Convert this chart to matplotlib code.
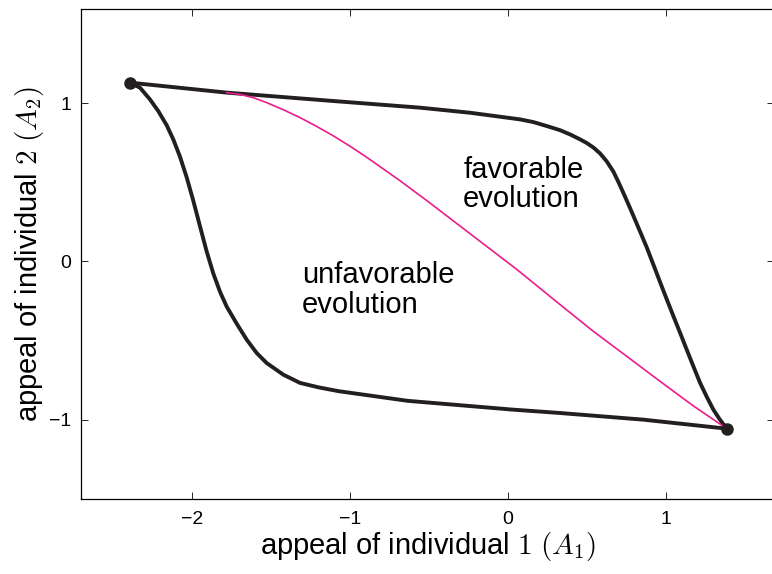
import matplotlib
matplotlib.use("Agg")
import matplotlib.pyplot as plt

plt.rcParams['font.family'] = ['Liberation Sans', 'DejaVu Sans']
plt.rcParams['mathtext.fontset'] = 'cm'

# upper (black) trajectory
upper_x = [-2.395, -1.782, -1.106, -0.557, -0.240, 0.077, 0.161, 0.246, 0.330, 0.394,
           0.457, 0.499, 0.541, 0.584, 0.626, 0.668, 0.700, 0.731, 0.763, 0.795,
           0.836, 0.880, 0.921, 0.964, 1.006, 1.048, 1.091, 1.133, 1.175, 1.217,
           1.260, 1.302, 1.344, 1.387]
upper_y = [1.129, 1.066, 1.013, 0.971, 0.939, 0.897, 0.880, 0.855, 0.829, 0.802,
           0.771, 0.748, 0.720, 0.682, 0.632, 0.568, 0.502, 0.434, 0.362, 0.288,
           0.192, 0.088, -0.018, -0.130, -0.238, -0.344, -0.451, -0.557, -0.662, -0.765,
           -0.855, -0.936, -1.000, -1.056]

# lower (black) trajectory
lower_x = [-2.395, -2.331, -2.268, -2.215, -2.162, -2.120, -2.078, -2.035, -1.994, -1.951,
           -1.909, -1.867, -1.824, -1.782, -1.719, -1.655, -1.592, -1.529, -1.423, -1.317,
           -1.200, -1.074, -0.636, 0.022, 0.330, 0.858, 1.387]
lower_y = [1.129, 1.097, 1.023, 0.949, 0.860, 0.770, 0.662, 0.530, 0.385, 0.222,
           0.064, -0.075, -0.192, -0.285, -0.392, -0.494, -0.578, -0.641, -0.715, -0.767,
           -0.795, -0.819, -0.880, -0.935, -0.957, -0.999, -1.056]

# magenta trajectory
mag_x = [-1.782, -1.698, -1.613, -1.529, -1.423, -1.317, -1.212, -1.106, -1.001, -0.895,
         -0.684, -0.515, 0.056, 0.330, 0.541, 0.753, 0.964, 1.175, 1.387]
mag_y = [1.066, 1.055, 1.034, 1.003, 0.958, 0.908, 0.853, 0.793, 0.728, 0.658,
         0.510, 0.385, -0.050, -0.272, -0.441, -0.599, -0.757, -0.912, -1.056]

# end points
pts_x = [-2.395, 1.387]
pts_y = [1.129, -1.056]

xticks = [-2, -1, 0, 1]
yticks = [-1, 0, 1]

fig = plt.figure(figsize=(7.72, 5.74), dpi=100)
ax = fig.add_axes([81 / 772, 1 - 499 / 574, (774 - 81) / 772, (499 - 9) / 574])

black = '#231f20'
ax.plot(upper_x, upper_y, color=black, lw=2.8, solid_capstyle='round', solid_joinstyle='round')
ax.plot(lower_x, lower_y, color=black, lw=2.8, solid_capstyle='round', solid_joinstyle='round')
ax.plot(mag_x, mag_y, color='#ec1c8c', lw=1.2, solid_joinstyle='round')
ax.plot(pts_x, pts_y, 'o', color=black, ms=8, zorder=5)

ax.text(-1.307, -0.325, 'unfavorable\nevolution', fontsize=21, va='baseline', ha='left',
        linespacing=1.07)
ax.text(-0.283, 0.343, 'favorable\nevolution', fontsize=21, va='baseline', ha='left',
        linespacing=1.07)

ax.set_xlim(-2.705, 1.686)
ax.set_ylim(-1.5, 1.594)
ax.set_xticks(xticks)
ax.set_yticks(yticks)
ax.tick_params(direction='in', top=True, right=True, length=5, width=0.6, labelsize=14)
ax.tick_params(axis='x', pad=9)
ax.tick_params(axis='y', pad=7)
for s in ax.spines.values():
    s.set_linewidth(0.9)

ax.set_xlabel('appeal of individual $1$ $(A_1)$', fontsize=21, labelpad=1)
ax.set_ylabel('appeal of individual $2$ $(A_2)$', fontsize=21, labelpad=2)

fig.savefig('out.png', dpi=100)
